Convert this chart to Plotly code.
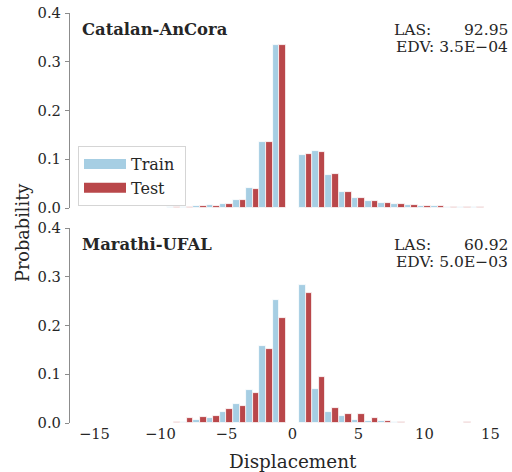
import plotly.graph_objects as go

disp = list(range(-15, 0)) + list(range(1, 16))

cat_train = [0.0002, 0.0003, 0.0004, 0.0005, 0.0007, 0.001, 0.0015, 0.0027, 0.0034, 0.0055,
             0.0089, 0.017, 0.0417, 0.1346, 0.335,
             0.109, 0.117, 0.068, 0.033, 0.021, 0.015, 0.011, 0.008, 0.006, 0.0048,
             0.004, 0.003, 0.002, 0.0015, 0.001]
cat_test = [0.0002, 0.0003, 0.0004, 0.0005, 0.0007, 0.001, 0.0015, 0.002, 0.0034, 0.005,
            0.008, 0.017, 0.040, 0.135, 0.335,
            0.110, 0.115, 0.069, 0.033, 0.021, 0.014, 0.011, 0.008, 0.007, 0.0048,
            0.0035, 0.003, 0.002, 0.0015, 0.001]

mar_train = [0, 0, 0, 0, 0, 0.0008, 0.0005, 0.002, 0.006, 0.0096,
             0.0225, 0.038, 0.067, 0.158, 0.252,
             0.283, 0.069, 0.0225, 0.0143, 0.006, 0.004, 0.0034, 0.002, 0.001, 0,
             0, 0, 0, 0, 0]
mar_test = [0, 0, 0, 0, 0, 0, 0.002, 0.0096, 0.0123, 0.0143,
            0.0287, 0.034, 0.0615, 0.152, 0.215,
            0.267, 0.095, 0.031, 0.018, 0.018, 0.0096, 0.004, 0.002, 0, 0,
            0, 0, 0.002, 0, 0]

panels = [
    {"name": "Catalan-AnCora", "las": "92.95", "edv": "3.5E\u221204"},
    {"name": "Marathi-UFAL", "las": "60.92", "edv": "5.0E\u221203"},
]

TRAIN_C = "#a6cee3"
TEST_C = "#b9474a"
FONT = "DejaVu Serif"
TXT = "#262626"

fig = go.Figure()
for i, (tr, te) in enumerate([(cat_train, cat_test), (mar_train, mar_test)]):
    xa = "x" if i == 0 else "x2"
    ya = "y" if i == 0 else "y2"
    fig.add_trace(go.Bar(x=disp, y=tr, name="Train", marker=dict(color=TRAIN_C, line=dict(color="white", width=0.8)),
                         xaxis=xa, yaxis=ya, offsetgroup="a", showlegend=False))
    fig.add_trace(go.Bar(x=disp, y=te, name="Test", marker=dict(color=TEST_C, line=dict(color="white", width=0.8)),
                         xaxis=xa, yaxis=ya, offsetgroup="b", showlegend=False))

# legend entries (wide patch symbols like the reference)
for nm, c in [("Train\u00a0", TRAIN_C), ("Test", TEST_C)]:
    fig.add_trace(go.Scatter(x=[None], y=[None], mode="lines", name=nm,
                             line=dict(color=c, width=10), xaxis="x", yaxis="y", hoverinfo="skip"))

L, R, T, B = 70, 15, 13, 49
W, H = 512, 472
ph = H - T - B
pw = W - L - R
top_dom = [(423 - 208) / ph, 1.0]
bot_dom = [0.0, (423 - 228) / ph]

TICKF = dict(family=FONT, size=14.7, color=TXT)
yax = dict(range=[0, 0.4], tickvals=[0, 0.1, 0.2, 0.3, 0.4], tickformat=".1f",
           showline=True, linecolor="#8c8c8c", linewidth=1.3, ticks="outside", ticklen=4,
           tickcolor="#8c8c8c", tickwidth=1.2, showgrid=False, zeroline=False,
           tickfont=TICKF, automargin=False, ticklabelstandoff=1)
xax = dict(range=[-16.85, 15.5], showgrid=False, zeroline=False, showline=False, ticks="",
           tickvals=[-15, -10, -5, 0, 5, 10, 15], tickfont=TICKF, automargin=False)

fig.update_layout(
    width=W, height=H, margin=dict(l=L, r=R, t=T, b=B, autoexpand=False),
    paper_bgcolor="white", plot_bgcolor="white",
    barmode="group", bargap=0, bargroupgap=0,
    font=dict(family=FONT, color=TXT),
    xaxis=dict(**xax, domain=[0, 1], anchor="y", matches="x2", showticklabels=False),
    yaxis=dict(**yax, domain=top_dom, anchor="x"),
    xaxis2=dict(**xax, domain=[0, 1], anchor="y2"),
    yaxis2=dict(**yax, domain=bot_dom, anchor="x2"),
    legend=dict(x=(78 - L) / pw, y=(423 - 146) / ph, xanchor="left", yanchor="top",
                bgcolor="white", bordercolor="#d5d5d5", borderwidth=1, itemwidth=42,
                font=dict(family=FONT, size=16, color=TXT), tracegroupgap=0),
)

def px_x(px):
    return (px - L) / pw

def px_y(py):
    return (423 - py) / ph

anns = []
for i, p in enumerate(panels):
    off = 0 if i == 0 else 215
    anns.append(dict(text="<b>" + p["name"] + "</b>", x=px_x(80), y=px_y(29.5 + off), xref="paper", yref="paper",
                     xanchor="left", yanchor="middle", showarrow=False, font=dict(family=FONT, size=16.4, color=TXT)))
    anns.append(dict(text="LAS:", x=px_x(392), y=px_y(30 + off), xref="paper", yref="paper",
                     xanchor="left", yanchor="middle", showarrow=False, font=dict(family=FONT, size=15.5, color=TXT)))
    anns.append(dict(text=p["las"], x=px_x(510), y=px_y(30 + off), xref="paper", yref="paper",
                     xanchor="right", yanchor="middle", showarrow=False, font=dict(family=FONT, size=15.5, color=TXT)))
    anns.append(dict(text="EDV: " + p["edv"], x=px_x(510), y=px_y(47 + off), xref="paper", yref="paper",
                     xanchor="right", yanchor="middle", showarrow=False, font=dict(family=FONT, size=15.5, color=TXT)))

anns.append(dict(text="Probability", x=px_x(23), y=px_y(233), xref="paper", yref="paper", textangle=-90,
                 xanchor="center", yanchor="middle", showarrow=False, font=dict(family=FONT, size=17.7, color=TXT)))
anns.append(dict(text="Displacement", x=px_x(292.5), y=px_y(461), xref="paper", yref="paper",
                 xanchor="center", yanchor="middle", showarrow=False, font=dict(family=FONT, size=18.4, color=TXT)))
fig.update_layout(annotations=anns)

fig.write_html("out.html", config={"displayModeBar": False},
               post_script="document.body.style.margin='0';document.body.style.padding='0';")
